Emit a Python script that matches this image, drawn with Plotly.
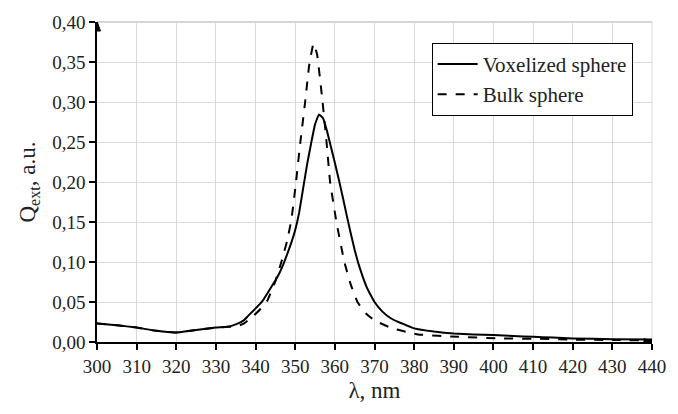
import plotly.graph_objects as go

# Voxelized sphere (solid)
vox_x = [300, 305, 310, 315, 320, 325, 330, 333, 335, 337, 338, 340, 341, 342, 343, 344, 345, 346, 347, 348, 349,
         350, 351, 352, 353, 354, 355, 356, 357, 358, 359, 360, 361, 362, 363, 364, 365, 366, 367, 368, 369,
         370, 372, 374, 376, 378, 380, 385, 390, 395, 400, 405, 410, 415, 420, 430, 440]
vox_y = [0.023, 0.021, 0.018, 0.014, 0.012, 0.015, 0.018, 0.019, 0.022, 0.027, 0.032, 0.042, 0.047, 0.053, 0.061,
         0.069, 0.077, 0.086, 0.097, 0.110, 0.124, 0.140, 0.162, 0.192, 0.222, 0.248, 0.272, 0.2845, 0.280, 0.264,
         0.244, 0.224, 0.203, 0.181, 0.158, 0.136, 0.115, 0.097, 0.082, 0.069, 0.059, 0.050, 0.038, 0.030, 0.025,
         0.021, 0.017, 0.013, 0.0105, 0.0095, 0.0086, 0.0075, 0.0065, 0.0055, 0.0045, 0.0035, 0.003]

# Bulk sphere (dashed)
bulk_x = [300, 305, 310, 315, 320, 325, 330, 333, 335, 337, 339.5, 341, 343, 345, 346.5, 348, 349.1, 350.2, 351.3,
          352.5, 353.5, 354.6, 355.5, 356.9, 357.9, 358.8, 360.4, 362.4, 364, 365.7, 368, 370, 374, 378, 381,
          391, 401, 411, 420, 430, 440]
bulk_y = [0.023, 0.021, 0.018, 0.014, 0.012, 0.015, 0.018, 0.019, 0.019, 0.023, 0.033, 0.040, 0.052, 0.076, 0.100,
          0.127, 0.155, 0.200, 0.250, 0.300, 0.345, 0.373, 0.360, 0.300, 0.250, 0.200, 0.150, 0.100, 0.072, 0.050,
          0.035, 0.027, 0.018, 0.0126, 0.0094, 0.0065, 0.0045, 0.004, 0.003, 0.0025, 0.002]

x_ticks = list(range(300, 441, 10))
y_ticks = [0.00, 0.05, 0.10, 0.15, 0.20, 0.25, 0.30, 0.35, 0.40]

FONT = "Liberation Serif, Times New Roman, Times, serif"

fig = go.Figure()
fig.add_trace(go.Scatter(x=vox_x, y=vox_y, mode="lines", name="Voxelized sphere",
                         line=dict(color="black", width=2, shape="spline", smoothing=0.3),
                         legendgroup="a"))
fig.add_trace(go.Scatter(x=bulk_x, y=bulk_y, mode="lines", name="Bulk sphere",
                         line=dict(color="black", width=2, dash="dash", shape="spline", smoothing=0.3),
                         legendgroup="b"))

fig.update_layout(
    width=678, height=414,
    margin=dict(l=97, r=20, t=15, b=72),
    paper_bgcolor="white", plot_bgcolor="white",
    separators=", ",
    font=dict(family=FONT, size=19, color="#222"),
    legend=dict(x=0.603, y=0.935, xanchor="left", yanchor="top",
                bordercolor="black", borderwidth=1, bgcolor="white",
                font=dict(family=FONT, size=21, color="#222"),
                tracegroupgap=0, traceorder="grouped", itemwidth=40),
    xaxis=dict(range=[300, 440], tickvals=x_ticks, ticktext=[str(v) for v in x_ticks],
               showgrid=True, gridcolor="#d9d9d9", gridwidth=1,
               showline=True, linecolor="black", linewidth=1.5,
               ticks="outside", ticklen=6, tickcolor="black", tickwidth=1.5,
               tickfont=dict(family=FONT, size=19),
               zeroline=False,
               title=dict(text="λ, nm", font=dict(family=FONT, size=23), standoff=6)),
    yaxis=dict(range=[0, 0.40], tickvals=y_ticks, tickformat=".2f",
               showgrid=True, gridcolor="#d9d9d9", gridwidth=1,
               showline=True, linecolor="black", linewidth=1.5,
               ticks="outside", ticklen=6, tickcolor="black", tickwidth=1.5,
               tickfont=dict(family=FONT, size=19),
               zeroline=False,
               title=dict(text="Q<sub>ext</sub>, a.u.", font=dict(family=FONT, size=23), standoff=10)),
)

# light frame at top and right (gridline color)
fig.add_shape(type="line", xref="paper", yref="paper", x0=0, x1=1, y0=1, y1=1,
              line=dict(color="#c8c8c8", width=1.5), layer="below")
fig.add_shape(type="line", xref="paper", yref="paper", x0=1, x1=1, y0=0, y1=1,
              line=dict(color="#d9d9d9", width=1), layer="below")

# axis arrowheads
fig.add_shape(type="path", xref="x", yref="y", xsizemode="pixel", ysizemode="pixel",
              xanchor=440, yanchor=0, path="M 1,0 L -8,3.5 L -8,-3.5 Z",
              fillcolor="black", line=dict(color="black", width=1))
fig.add_shape(type="path", xref="x", yref="y", xsizemode="pixel", ysizemode="pixel",
              xanchor=300, yanchor=0.40, path="M 0,1 L -3.5,-9 L 3.5,-9 Z",
              fillcolor="black", line=dict(color="black", width=1))

fig.write_html("out.html")
